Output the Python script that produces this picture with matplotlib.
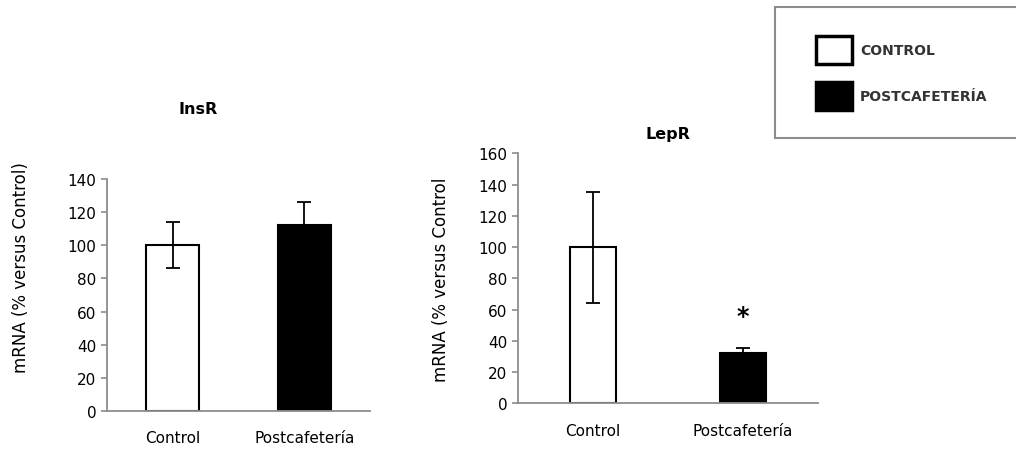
import numpy as np
import matplotlib.pyplot as plt
from matplotlib.patches import Rectangle

groups = ['Control', 'Postcafetería']
legend_labels = ['CONTROL', 'POSTCAFETERÍA']
bar_colors = ['white', 'black']

insr_mean = [100, 112]
insr_err = [14, 14]
lepr_mean = [100, 32]
lepr_err = [35.5, 3.5]

plt.rcParams['font.family'] = ['DejaVu Sans']
fig = plt.figure(figsize=(10.16, 4.52), dpi=100)

ax1 = fig.add_axes([0.1053, 0.0885, 0.259, 0.5133])
ax2 = fig.add_axes([0.5098, 0.1055, 0.2952, 0.5531])


def draw_panel(ax, means, errs, width, ymax, ylabel, label_x, label_y):
    x = np.arange(len(groups))
    ax.bar(x, means, width=width, color=bar_colors, edgecolor='black',
           linewidth=1.5, zorder=2)
    for i in range(len(x)):
        # lower half of the error bar hidden inside the filled bar
        lo = errs[i] if bar_colors[i] == 'white' else 0
        ax.errorbar(x[i], means[i], yerr=[[lo], [errs[i]]], fmt='none',
                    ecolor='black', elinewidth=1.3, capsize=5, capthick=1.3,
                    zorder=3)
    ax.set_xlim(-0.5, 1.5)
    ax.set_ylim(0, ymax)
    ax.set_yticks(np.arange(0, ymax + 1, 20))
    ax.set_xticks(x)
    ax.set_xticklabels(groups, fontsize=11)
    for s in ['top', 'right']:
        ax.spines[s].set_visible(False)
    for s in ['left', 'bottom']:
        ax.spines[s].set_color('#8c8c8c')
        ax.spines[s].set_linewidth(1.3)
    ax.tick_params(axis='y', colors='#8c8c8c', labelcolor='black',
                   labelsize=11, length=4, width=1.2)
    ax.tick_params(axis='x', length=0, pad=14)
    fig.text(label_x, 1 - label_y / 452, ylabel, rotation=90, ha='center',
             va='center', fontsize=12)


draw_panel(ax1, insr_mean, insr_err, 0.4, 140,
           'mRNA (% versus Control)', 0.021, 268)
draw_panel(ax2, lepr_mean, lepr_err, 0.31, 160,
           'mRNA (% versus Control', 0.434, 280)

fig.text(198 / 1016, 1 - 110 / 452, 'InsR', ha='center', va='center',
         fontsize=11.5, fontweight='bold')
fig.text(668 / 1016, 1 - 135 / 452, 'LepR', ha='center', va='center',
         fontsize=11.5, fontweight='bold')

ax2.text(1, 56, '*', ha='center', va='center', fontsize=17, fontweight='bold')

# legend box drawn in figure coordinates
fig.patches.append(Rectangle((775 / 1016, 1 - 139 / 452), 250 / 1016, 131 / 452,
                             transform=fig.transFigure, facecolor='white',
                             edgecolor='#8c8c8c', linewidth=1.5))
for i, lab in enumerate(legend_labels):
    y0 = 1 - (65 + 46 * i) / 452
    fig.patches.append(Rectangle((816 / 1016, y0), 36 / 1016, 28 / 452,
                                 transform=fig.transFigure,
                                 facecolor=bar_colors[i], edgecolor='black',
                                 linewidth=2.5))
    fig.text(860 / 1016, y0 + 14 / 452, lab, ha='left', va='center',
             fontsize=10, fontweight='bold', color='#333333')

fig.savefig('out.png', dpi=100)
